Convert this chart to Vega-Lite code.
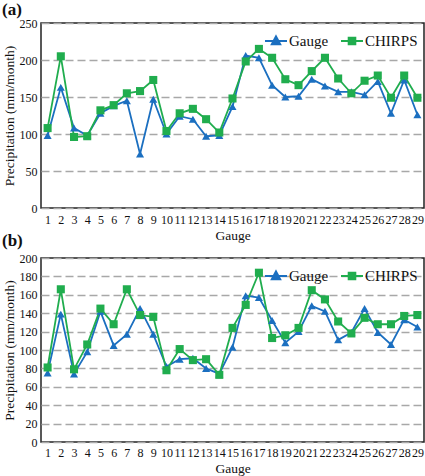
{
 "$schema": "https://vega.github.io/schema/vega-lite/v6.json",
 "padding": {"left": 1, "top": 0, "right": 1, "bottom": 2},
 "bounds": "flush",
 "config": {
  "font": "Times New Roman, Liberation Serif, serif",
  "view": {"stroke": "#222", "strokeWidth": 1.5},
  "axis": {"labelFont": "Times New Roman, Liberation Serif, serif", "titleFont": "Times New Roman, Liberation Serif, serif", "labelColor": "#111", "titleColor": "#111", "titleFontWeight": "normal", "labelFontSize": 12, "titleFontSize": 13.5, "ticks": false, "domain": false},
  "legend": {"labelFont": "Times New Roman, Liberation Serif, serif", "labelFontSize": 15, "labelColor": "#111"},
  "title": {"font": "Times New Roman, Liberation Serif, serif", "color": "#111"}
 },
 "spacing": 50,
 "datasets": {
  "d": [
   {"panel":"a","gauge":1,"source":"Gauge","value":98},{"panel":"a","gauge":2,"source":"Gauge","value":163},{"panel":"a","gauge":3,"source":"Gauge","value":108},{"panel":"a","gauge":4,"source":"Gauge","value":98},{"panel":"a","gauge":5,"source":"Gauge","value":128},{"panel":"a","gauge":6,"source":"Gauge","value":138},{"panel":"a","gauge":7,"source":"Gauge","value":145},{"panel":"a","gauge":8,"source":"Gauge","value":73},{"panel":"a","gauge":9,"source":"Gauge","value":147},{"panel":"a","gauge":10,"source":"Gauge","value":100},{"panel":"a","gauge":11,"source":"Gauge","value":124},{"panel":"a","gauge":12,"source":"Gauge","value":120},{"panel":"a","gauge":13,"source":"Gauge","value":97},{"panel":"a","gauge":14,"source":"Gauge","value":98},{"panel":"a","gauge":15,"source":"Gauge","value":137},{"panel":"a","gauge":16,"source":"Gauge","value":206},{"panel":"a","gauge":17,"source":"Gauge","value":203},{"panel":"a","gauge":18,"source":"Gauge","value":166},{"panel":"a","gauge":19,"source":"Gauge","value":150},{"panel":"a","gauge":20,"source":"Gauge","value":151},{"panel":"a","gauge":21,"source":"Gauge","value":174},{"panel":"a","gauge":22,"source":"Gauge","value":165},{"panel":"a","gauge":23,"source":"Gauge","value":157},{"panel":"a","gauge":24,"source":"Gauge","value":157},{"panel":"a","gauge":25,"source":"Gauge","value":153},{"panel":"a","gauge":26,"source":"Gauge","value":171},{"panel":"a","gauge":27,"source":"Gauge","value":128},{"panel":"a","gauge":28,"source":"Gauge","value":173},{"panel":"a","gauge":29,"source":"Gauge","value":126},
   {"panel":"a","gauge":1,"source":"CHIRPS","value":108},{"panel":"a","gauge":2,"source":"CHIRPS","value":205},{"panel":"a","gauge":3,"source":"CHIRPS","value":96},{"panel":"a","gauge":4,"source":"CHIRPS","value":97},{"panel":"a","gauge":5,"source":"CHIRPS","value":132},{"panel":"a","gauge":6,"source":"CHIRPS","value":139},{"panel":"a","gauge":7,"source":"CHIRPS","value":155},{"panel":"a","gauge":8,"source":"CHIRPS","value":158},{"panel":"a","gauge":9,"source":"CHIRPS","value":173},{"panel":"a","gauge":10,"source":"CHIRPS","value":104},{"panel":"a","gauge":11,"source":"CHIRPS","value":128},{"panel":"a","gauge":12,"source":"CHIRPS","value":134},{"panel":"a","gauge":13,"source":"CHIRPS","value":120},{"panel":"a","gauge":14,"source":"CHIRPS","value":102},{"panel":"a","gauge":15,"source":"CHIRPS","value":148},{"panel":"a","gauge":16,"source":"CHIRPS","value":198},{"panel":"a","gauge":17,"source":"CHIRPS","value":215},{"panel":"a","gauge":18,"source":"CHIRPS","value":203},{"panel":"a","gauge":19,"source":"CHIRPS","value":174},{"panel":"a","gauge":20,"source":"CHIRPS","value":166},{"panel":"a","gauge":21,"source":"CHIRPS","value":185},{"panel":"a","gauge":22,"source":"CHIRPS","value":203},{"panel":"a","gauge":23,"source":"CHIRPS","value":175},{"panel":"a","gauge":24,"source":"CHIRPS","value":155},{"panel":"a","gauge":25,"source":"CHIRPS","value":172},{"panel":"a","gauge":26,"source":"CHIRPS","value":179},{"panel":"a","gauge":27,"source":"CHIRPS","value":149},{"panel":"a","gauge":28,"source":"CHIRPS","value":179},{"panel":"a","gauge":29,"source":"CHIRPS","value":149},
   {"panel":"b","gauge":1,"source":"Gauge","value":75},{"panel":"b","gauge":2,"source":"Gauge","value":139},{"panel":"b","gauge":3,"source":"Gauge","value":74},{"panel":"b","gauge":4,"source":"Gauge","value":98},{"panel":"b","gauge":5,"source":"Gauge","value":142},{"panel":"b","gauge":6,"source":"Gauge","value":105},{"panel":"b","gauge":7,"source":"Gauge","value":117},{"panel":"b","gauge":8,"source":"Gauge","value":145},{"panel":"b","gauge":9,"source":"Gauge","value":117},{"panel":"b","gauge":10,"source":"Gauge","value":82},{"panel":"b","gauge":11,"source":"Gauge","value":90},{"panel":"b","gauge":12,"source":"Gauge","value":91},{"panel":"b","gauge":13,"source":"Gauge","value":80},{"panel":"b","gauge":14,"source":"Gauge","value":74},{"panel":"b","gauge":15,"source":"Gauge","value":103},{"panel":"b","gauge":16,"source":"Gauge","value":159},{"panel":"b","gauge":17,"source":"Gauge","value":157},{"panel":"b","gauge":18,"source":"Gauge","value":132},{"panel":"b","gauge":19,"source":"Gauge","value":108},{"panel":"b","gauge":20,"source":"Gauge","value":120},{"panel":"b","gauge":21,"source":"Gauge","value":148},{"panel":"b","gauge":22,"source":"Gauge","value":142},{"panel":"b","gauge":23,"source":"Gauge","value":111},{"panel":"b","gauge":24,"source":"Gauge","value":119},{"panel":"b","gauge":25,"source":"Gauge","value":145},{"panel":"b","gauge":26,"source":"Gauge","value":119},{"panel":"b","gauge":27,"source":"Gauge","value":106},{"panel":"b","gauge":28,"source":"Gauge","value":133},{"panel":"b","gauge":29,"source":"Gauge","value":125},
   {"panel":"b","gauge":1,"source":"CHIRPS","value":81},{"panel":"b","gauge":2,"source":"CHIRPS","value":166},{"panel":"b","gauge":3,"source":"CHIRPS","value":79},{"panel":"b","gauge":4,"source":"CHIRPS","value":106},{"panel":"b","gauge":5,"source":"CHIRPS","value":145},{"panel":"b","gauge":6,"source":"CHIRPS","value":128},{"panel":"b","gauge":7,"source":"CHIRPS","value":166},{"panel":"b","gauge":8,"source":"CHIRPS","value":138},{"panel":"b","gauge":9,"source":"CHIRPS","value":136},{"panel":"b","gauge":10,"source":"CHIRPS","value":78},{"panel":"b","gauge":11,"source":"CHIRPS","value":101},{"panel":"b","gauge":12,"source":"CHIRPS","value":89},{"panel":"b","gauge":13,"source":"CHIRPS","value":90},{"panel":"b","gauge":14,"source":"CHIRPS","value":73},{"panel":"b","gauge":15,"source":"CHIRPS","value":124},{"panel":"b","gauge":16,"source":"CHIRPS","value":149},{"panel":"b","gauge":17,"source":"CHIRPS","value":184},{"panel":"b","gauge":18,"source":"CHIRPS","value":113},{"panel":"b","gauge":19,"source":"CHIRPS","value":116},{"panel":"b","gauge":20,"source":"CHIRPS","value":124},{"panel":"b","gauge":21,"source":"CHIRPS","value":165},{"panel":"b","gauge":22,"source":"CHIRPS","value":155},{"panel":"b","gauge":23,"source":"CHIRPS","value":131},{"panel":"b","gauge":24,"source":"CHIRPS","value":118},{"panel":"b","gauge":25,"source":"CHIRPS","value":135},{"panel":"b","gauge":26,"source":"CHIRPS","value":128},{"panel":"b","gauge":27,"source":"CHIRPS","value":128},{"panel":"b","gauge":28,"source":"CHIRPS","value":137},{"panel":"b","gauge":29,"source":"CHIRPS","value":138}
  ]
 },
 "vconcat": [
  {
   "title": {"text": "(a)", "anchor": "start", "fontSize": 17, "fontWeight": "bold", "offset": -2},
   "width": 383, "height": 185,
   "data": {"name": "d"},
   "transform": [{"filter": "datum.panel == 'a'"}],
   "encoding": {
    "x": {"field": "gauge", "type": "ordinal", "axis": {"title": "Gauge", "labelAngle": 0, "labelPadding": 6, "titlePadding": 3}},
    "y": {"field": "value", "type": "quantitative", "scale": {"domain": [0, 250]}, "axis": {"values": [0, 50, 100, 150, 200, 250], "title": "Precipitation (mm/month)", "labelPadding": 4, "titlePadding": 3, "gridDash": [8, 4], "gridColor": "#a8a8a8", "gridWidth": 1.5}},
    "color": {"field": "source", "type": "nominal", "scale": {"domain": ["Gauge", "CHIRPS"], "range": ["#1b6fc0", "#20ad4e"]},
     "legend": {"title": null, "orient": "top-right", "direction": "horizontal", "offset": 6, "symbolSize": 484, "symbolStrokeWidth": 2, "columnPadding": 8, "labelOffset": 1,
      "encode": {"symbols": {"update": {
       "shape": {"signal": "datum.value == 'Gauge' ? 'M-1,0L1,0M0,-0.42L0.38,0.3L-0.38,0.3Z' : 'M-1,0L1,0M-0.3,-0.3L0.3,-0.3L0.3,0.3L-0.3,0.3Z'"},
       "fill": {"signal": "datum.value == 'Gauge' ? '#1b6fc0' : '#20ad4e'"},
       "stroke": {"signal": "datum.value == 'Gauge' ? '#1b6fc0' : '#20ad4e'"}
      }}}}}
   },
   "layer": [
    {"mark": {"type": "line", "strokeWidth": 1.8}},
    {"mark": {"type": "point", "filled": true, "opacity": 1, "size": 65},
     "encoding": {"shape": {"field": "source", "type": "nominal", "scale": {"domain": ["Gauge", "CHIRPS"], "range": ["triangle-up", "square"]}, "legend": null}}}
   ]
  },
  {
   "title": {"text": "(b)", "anchor": "start", "fontSize": 17, "fontWeight": "bold", "offset": 2},
   "width": 383, "height": 184,
   "data": {"name": "d"},
   "transform": [{"filter": "datum.panel == 'b'"}],
   "encoding": {
    "x": {"field": "gauge", "type": "ordinal", "axis": {"title": "Gauge", "labelAngle": 0, "labelPadding": 5, "titlePadding": 3}},
    "y": {"field": "value", "type": "quantitative", "scale": {"domain": [0, 200]}, "axis": {"values": [0, 20, 40, 60, 80, 100, 120, 140, 160, 180, 200], "title": "Precipitation (mm/month)", "labelPadding": 4, "titlePadding": 3, "gridDash": [8, 4], "gridColor": "#a8a8a8", "gridWidth": 1.5}},
    "color": {"field": "source", "type": "nominal", "scale": {"domain": ["Gauge", "CHIRPS"], "range": ["#1b6fc0", "#20ad4e"]},
     "legend": {"title": null, "orient": "top-right", "direction": "horizontal", "offset": 6, "symbolSize": 484, "symbolStrokeWidth": 2, "columnPadding": 8, "labelOffset": 1,
      "encode": {"symbols": {"update": {
       "shape": {"signal": "datum.value == 'Gauge' ? 'M-1,0L1,0M0,-0.42L0.38,0.3L-0.38,0.3Z' : 'M-1,0L1,0M-0.3,-0.3L0.3,-0.3L0.3,0.3L-0.3,0.3Z'"},
       "fill": {"signal": "datum.value == 'Gauge' ? '#1b6fc0' : '#20ad4e'"},
       "stroke": {"signal": "datum.value == 'Gauge' ? '#1b6fc0' : '#20ad4e'"}
      }}}}}
   },
   "layer": [
    {"mark": {"type": "line", "strokeWidth": 1.8}},
    {"mark": {"type": "point", "filled": true, "opacity": 1, "size": 65},
     "encoding": {"shape": {"field": "source", "type": "nominal", "scale": {"domain": ["Gauge", "CHIRPS"], "range": ["triangle-up", "square"]}, "legend": null}}}
   ]
  }
 ],
 "resolve": {"scale": {"color": "independent"}, "legend": {"color": "independent"}}
}
